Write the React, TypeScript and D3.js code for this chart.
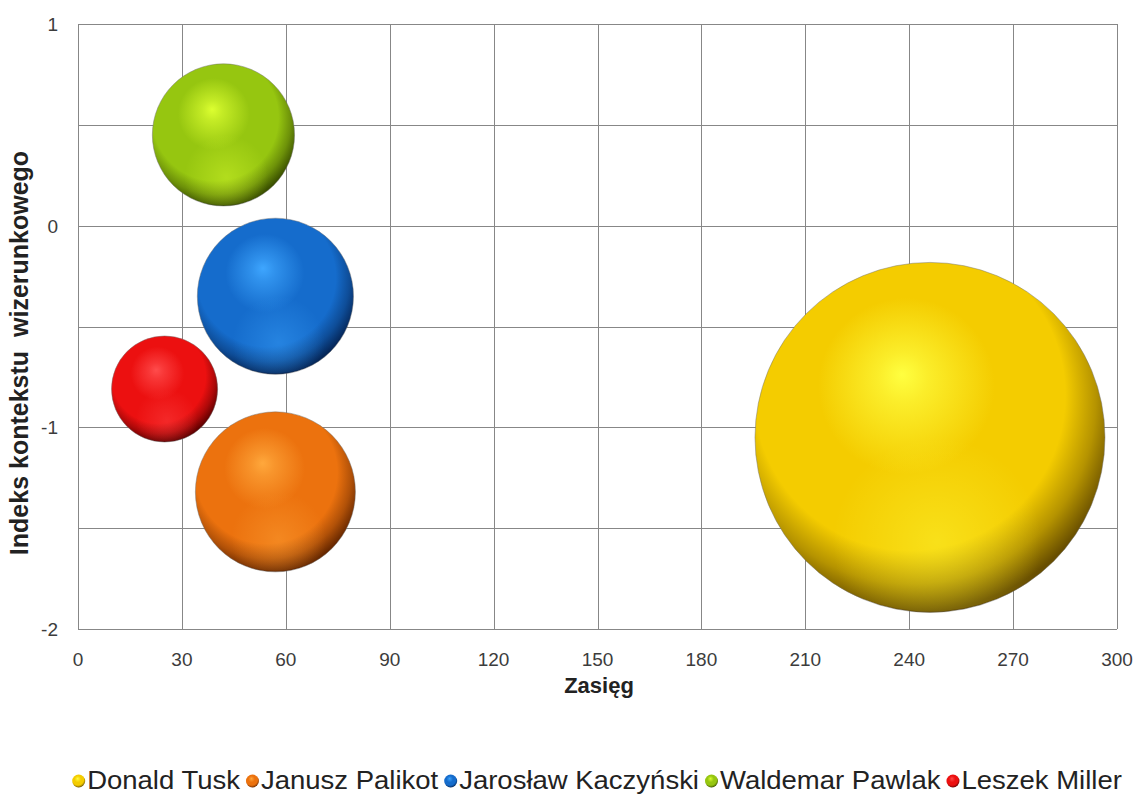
import React, { useEffect, useRef } from "react";
import * as d3 from "d3";

// Series data
const names = ["Donald Tusk", "Janusz Palikot", "Jarosław Kaczyński", "Waldemar Pawlak", "Leszek Miller"];
const reach = [246, 57, 57, 42, 25];
const imageIndex = [-1.05, -1.32, -0.35, 0.45, -0.81];
const bubbleSize = [100, 20.9, 19.9, 16.5, 9.2];

// Shading per series: highlight, base, dark rim
const highlight = ["#ffff40", "#ffa83c", "#3ea6ff", "#dcff30", "#ff4c4c"];
const baseColor = ["#f4cc00", "#ec720e", "#156ccc", "#96c610", "#ec1010"];
const darkColor = ["#684e00", "#682800", "#052658", "#3a5000", "#600000"];

const xTicks = [0, 30, 60, 90, 120, 150, 180, 210, 240, 270, 300];
const yGrid = [-2, -1.5, -1, -0.5, 0, 0.5, 1];
const yLabels = [-2, -1, 0, 1];

const xTitle = "Zasięg";
const yTitle = "Indeks kontekstu  wizerunkowego";

const W = 1136;
const H = 794;
const FONT = "'Liberation Sans', Arial, sans-serif";

export default function App() {
  const ref = useRef<SVGSVGElement | null>(null);

  useEffect(() => {
    const svg = d3.select(ref.current);
    svg.selectAll("*").remove();

    const x = d3.scaleLinear().domain([0, 300]).range([78, 1117]);
    const y = d3.scaleLinear().domain([-2, 1]).range([629, 24]);
    const r = d3.scaleSqrt().domain([0, d3.max(bubbleSize) as number]).range([0, 175]);

    const defs = svg.append("defs");
    names.forEach((_, i) => {
      const g = defs
        .append("radialGradient")
        .attr("id", `ball${i}`)
        .attr("cx", "0.45")
        .attr("cy", "0.4")
        .attr("r", "0.6")
        .attr("fx", "0.42")
        .attr("fy", "0.32");
      g.append("stop").attr("offset", "0").attr("stop-color", highlight[i]);
      g.append("stop").attr("offset", "0.12").attr("stop-color", d3.interpolateRgb(highlight[i], baseColor[i])(0.35));
      g.append("stop").attr("offset", "0.42").attr("stop-color", baseColor[i]);
      g.append("stop").attr("offset", "0.74").attr("stop-color", baseColor[i]);
      g.append("stop").attr("offset", "0.88").attr("stop-color", d3.interpolateRgb(baseColor[i], darkColor[i])(0.45));
      g.append("stop").attr("offset", "1").attr("stop-color", darkColor[i]);

      const refl = defs
        .append("radialGradient")
        .attr("id", `refl${i}`)
        .attr("cx", "0.52")
        .attr("cy", "0.8")
        .attr("r", "0.3");
      refl.append("stop").attr("offset", "0").attr("stop-color", highlight[i]).attr("stop-opacity", 0.4);
      refl.append("stop").attr("offset", "1").attr("stop-color", highlight[i]).attr("stop-opacity", 0);
    });

    // grid
    const grid = svg.append("g").attr("stroke", "#878787").attr("stroke-width", 1).attr("shape-rendering", "crispEdges");
    grid
      .selectAll("line.v")
      .data(xTicks)
      .join("line")
      .attr("x1", (d) => Math.round(x(d)) + 0.5)
      .attr("x2", (d) => Math.round(x(d)) + 0.5)
      .attr("y1", y(1))
      .attr("y2", y(-2));
    grid
      .selectAll("line.h")
      .data(yGrid)
      .join("line")
      .attr("x1", x(0))
      .attr("x2", x(300))
      .attr("y1", (d) => Math.round(y(d)) + 0.5)
      .attr("y2", (d) => Math.round(y(d)) + 0.5);

    // x tick labels
    svg
      .append("g")
      .selectAll("text")
      .data(xTicks)
      .join("text")
      .attr("x", (d) => x(d))
      .attr("y", 666)
      .attr("text-anchor", "middle")
      .attr("font-family", FONT)
      .attr("font-size", 19)
      .attr("fill", "#3c3c3c")
      .text((d) => String(d));

    // y tick labels
    svg
      .append("g")
      .selectAll("text")
      .data(yLabels)
      .join("text")
      .attr("x", 58)
      .attr("y", (d) => y(d) + 7)
      .attr("text-anchor", "end")
      .attr("font-family", FONT)
      .attr("font-size", 19)
      .attr("fill", "#3c3c3c")
      .text((d) => (d < 0 ? "-" + Math.abs(d) : String(d)));

    // bubbles, largest first
    const order = d3.range(names.length).sort((a, b) => bubbleSize[b] - bubbleSize[a]);
    const bub = svg.append("g");
    order.forEach((i) => {
      const cx = x(reach[i]);
      const cy = y(imageIndex[i]);
      const rad = r(bubbleSize[i]);
      bub
        .append("circle")
        .attr("cx", cx)
        .attr("cy", cy)
        .attr("r", rad)
        .attr("fill", `url(#ball${i})`)
        .attr("stroke", "rgba(110,110,110,0.45)")
        .attr("stroke-width", 1);
      bub.append("circle").attr("cx", cx).attr("cy", cy).attr("r", rad - 1).attr("fill", `url(#refl${i})`);
    });

    // axis titles
    svg
      .append("text")
      .attr("x", 599)
      .attr("y", 693)
      .attr("text-anchor", "middle")
      .attr("font-family", FONT)
      .attr("font-size", 22)
      .attr("font-weight", "bold")
      .attr("fill", "#222")
      .text(xTitle);

    svg
      .append("text")
      .attr("transform", "translate(28,353) rotate(-90)")
      .attr("text-anchor", "middle")
      .attr("font-family", FONT)
      .attr("font-size", 25)
      .attr("font-weight", "bold")
      .attr("fill", "#222")
      .style("white-space", "pre")
      .text(yTitle);

    // legend, laid out from measured text widths and spread to the plot width
    const leg = svg.append("g");
    const stretch = 1.1;
    const items = names.map((n, i) => {
      const g = leg.append("g");
      g.append("circle")
        .attr("cx", 6.5)
        .attr("cy", -8)
        .attr("r", 6.5)
        .attr("fill", `url(#ball${i})`);
      const t = g
        .append("text")
        .attr("font-family", FONT)
        .attr("font-size", 25)
        .attr("fill", "#222")
        .attr("transform", `translate(15,0) scale(${stretch},1)`)
        .text(n);
      const w = (t.node() as SVGTextElement).getComputedTextLength() * stretch;
      return { g, w: 15 + w };
    });
    const gap = 6;
    const total = d3.sum(items, (d) => d.w) + gap * (items.length - 1);
    let cur = 597 - total / 2;
    items.forEach((it) => {
      it.g.attr("transform", `translate(${cur},789)`);
      cur += it.w + gap;
    });
  }, []);

  return (
    <svg
      ref={ref}
      width={W}
      height={H}
      style={{ position: "absolute", left: 0, top: 0, background: "#fff" }}
    />
  );
}
